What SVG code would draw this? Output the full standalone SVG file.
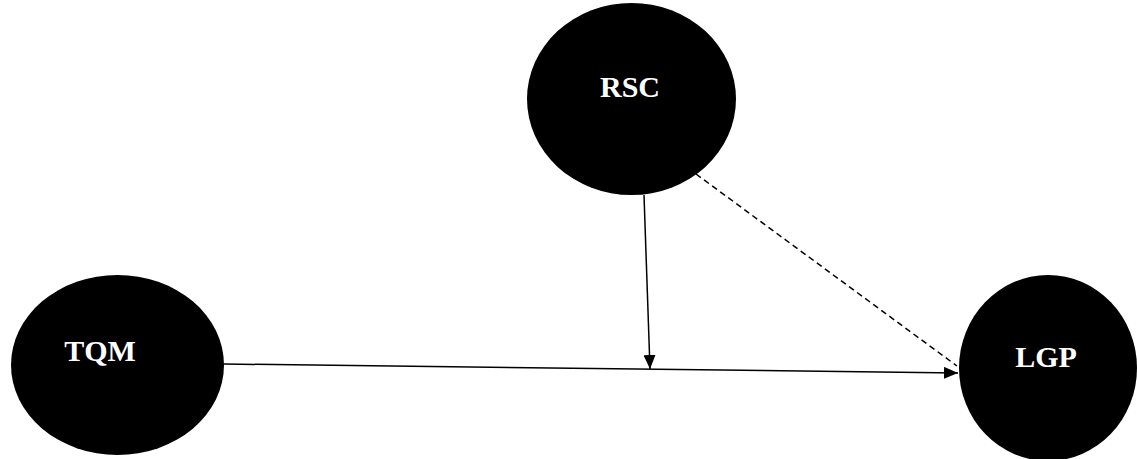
<svg xmlns="http://www.w3.org/2000/svg" width="1137" height="459" viewBox="0 0 1137 459">
<style>
.node{fill:#000;}
.lbl{fill:#fff;font-family:"Liberation Serif",serif;font-weight:bold;font-size:30px;text-anchor:middle;}
.edge{stroke:#000;stroke-width:1.5;fill:none;}
.dash{stroke-dasharray:6 4;}
</style>
<defs>
<marker id="ah" viewBox="0 0 14 12" refX="14" refY="6" markerWidth="14" markerHeight="12" markerUnits="userSpaceOnUse" orient="auto">
<path d="M0,0 L14,6 L0,12 Z" fill="#000"/>
</marker>
</defs>
<g id="connectors">
<line class="edge" x1="224" y1="364" x2="958" y2="373" marker-end="url(#ah)"/>
<line class="edge" x1="644" y1="195" x2="650" y2="369" marker-end="url(#ah)"/>
<line class="edge dash" x1="696" y1="174" x2="957" y2="366"/>
</g>
<g id="node-rsc">
<ellipse class="node" cx="631.5" cy="99" rx="104.5" ry="96"/>
<text class="lbl" x="630" y="97">RSC</text>
</g>
<g id="node-tqm">
<ellipse class="node" cx="117.5" cy="365" rx="106.5" ry="90"/>
<text class="lbl" x="100" y="361">TQM</text>
</g>
<g id="node-lgp">
<ellipse class="node" cx="1048" cy="368" rx="89" ry="93"/>
<text class="lbl" x="1046" y="367">LGP</text>
</g>
</svg>
